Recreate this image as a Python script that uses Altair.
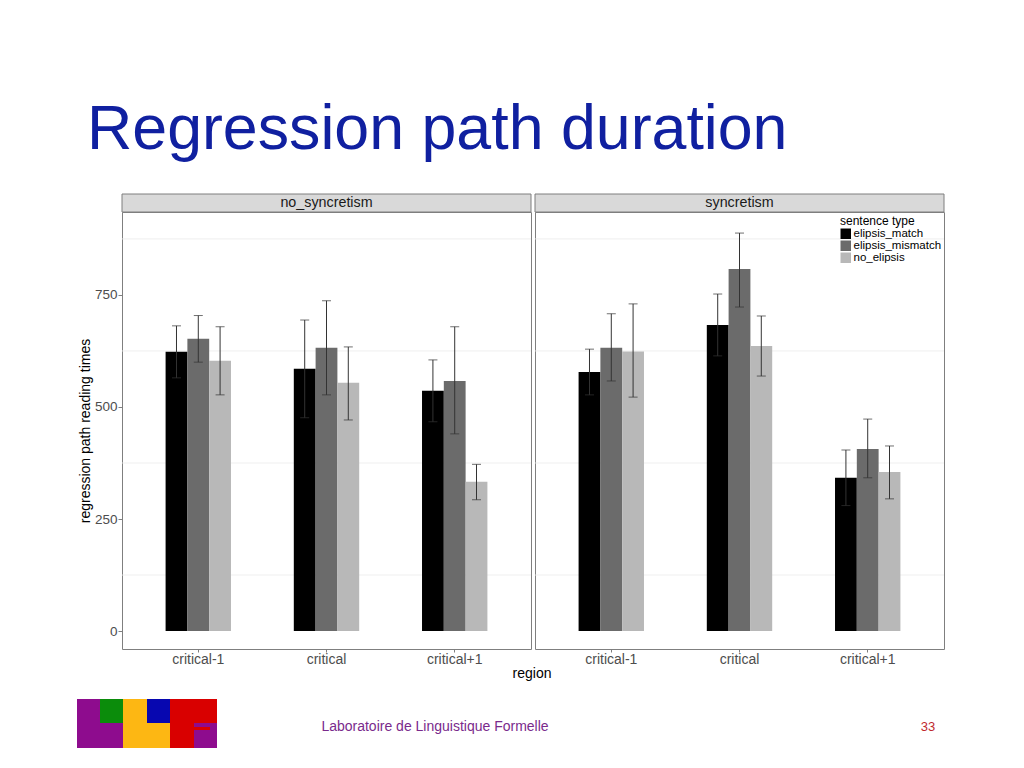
import altair as alt
import pandas as pd

# ---------------- data ----------------
panels = ["no_syncretism", "syncretism"]
regions = ["critical-1", "critical", "critical+1"]
types = ["elipsis_match", "elipsis_mismatch", "no_elipsis"]

# mean regression path reading times [region][type]
mean_no_sync = [[623, 652, 603], [585, 632, 554], [536, 558, 333]]
mean_sync = [[578, 632, 624], [683, 808, 636], [342, 406, 355]]
# error bar lower / upper ends
lo_no_sync = [[565, 600, 527], [476, 527, 471], [467, 440, 293]]
hi_no_sync = [[681, 704, 679], [694, 737, 634], [605, 679, 372]]
lo_sync = [[527, 558, 522], [614, 723, 569], [280, 342, 295]]
hi_sync = [[629, 708, 730], [752, 888, 703], [404, 473, 413]]

grid_values = [125, 375, 625, 875]
y_ticks = [0, 250, 500, 750]

slide_title = "Regression path duration"
footer_text = "Laboratoire de Linguistique Formelle"
page_number = "33"
y_title = "regression path reading times"
x_title = "region"
legend_title = "sentence type"

rows = []
for pname, M, L, Hh in [("no_syncretism", mean_no_sync, lo_no_sync, hi_no_sync),
                        ("syncretism", mean_sync, lo_sync, hi_sync)]:
    for i, r in enumerate(regions):
        for j, t in enumerate(types):
            rows.append({"panel": pname, "region": r, "stype": t,
                         "mean": M[i][j], "lo": L[i][j], "hi": Hh[i][j]})
df = pd.DataFrame(rows)
grid_df = pd.DataFrame({"g": grid_values})
one = pd.DataFrame({"k": [0]})

# ---------------- styling ----------------
FONT = "Liberation Sans"
W, H = 409, 437
ydom = [-40, 935]
yscale = alt.Scale(domain=ydom, nice=False, zero=False)
bar_colors = ["#000000", "#6b6b6b", "#b8b8b8"]
err_color = "#333333"


def make_yaxis(left):
    if not left:
        return None
    return alt.Axis(values=y_ticks, title=y_title, grid=False, domain=False,
                    tickSize=4, tickColor="#7f7f7f", labelFontSize=13.5,
                    labelColor="#4d4d4d", labelPadding=1, titleFontSize=14,
                    titleFontWeight="normal", titleColor="#000000",
                    titlePadding=2, labelFont=FONT, titleFont=FONT)


def text_layer(txt, x, y, size, color, align="center", baseline="middle"):
    return alt.Chart(one).mark_text(text=txt, fontSize=size, color=color, font=FONT,
                                    align=align, baseline=baseline).encode(
        x=alt.value(x), y=alt.value(y))


def rect_layer(x, x2, y, y2, color, opacity=1.0, stroke=None):
    kw = dict(color=color, opacity=opacity)
    if stroke:
        kw.update(stroke=stroke, strokeWidth=1)
    return alt.Chart(one).mark_rect(**kw).encode(
        x=alt.value(x), x2=alt.value(x2), y=alt.value(y), y2=alt.value(y2))


def panel(name, left):
    d = df[df.panel == name]
    yaxis = make_yaxis(left)
    xenc = alt.X("region:N", sort=regions,
                 scale=alt.Scale(paddingInner=0.49, paddingOuter=0.34),
                 axis=alt.Axis(title=None, labelAngle=0, labelFontSize=14,
                               labelColor="#4d4d4d", labelFont=FONT, tickSize=3,
                               tickColor="#7f7f7f", domain=False, labelPadding=0))
    xoff = alt.XOffset("stype:N", sort=types,
                       scale=alt.Scale(paddingInner=0, paddingOuter=0))
    if left:
        legend = None
    else:
        legend = alt.Legend(title=legend_title, orient="none", legendX=305, legendY=4,
                            titleFontSize=12, titleFontWeight="normal", titleColor="#000000",
                            titleFont=FONT, labelFont=FONT, labelFontSize=11.5,
                            labelColor="#000000", symbolType="square", symbolSize=110,
                            symbolStrokeWidth=0, rowPadding=-1.5, labelOffset=2,
                            titlePadding=0, padding=0)
    color = alt.Color("stype:N", sort=types,
                      scale=alt.Scale(domain=types, range=bar_colors), legend=legend)

    grid = alt.Chart(grid_df).mark_rule(color="#ebebeb", strokeWidth=0.8).encode(
        y=alt.Y("g:Q", scale=yscale, axis=yaxis))
    bars = alt.Chart(d).mark_bar().encode(
        x=xenc, xOffset=xoff,
        y=alt.Y("mean:Q", scale=yscale, axis=yaxis), y2=alt.datum(0),
        color=color)
    err = alt.Chart(d).mark_rule(color=err_color, strokeWidth=1).encode(
        x=xenc, xOffset=xoff, y=alt.Y("lo:Q", scale=yscale, axis=yaxis), y2="hi:Q")
    cap_lo = alt.Chart(d).mark_tick(color=err_color, size=9, thickness=1).encode(
        x=xenc, xOffset=xoff, y=alt.Y("lo:Q", scale=yscale, axis=yaxis))
    cap_hi = alt.Chart(d).mark_tick(color=err_color, size=9, thickness=1).encode(
        x=xenc, xOffset=xoff, y=alt.Y("hi:Q", scale=yscale, axis=yaxis))
    strip = rect_layer(0, W, -18, 0, "#d9d9d9", stroke="#7f7f7f")
    strip_txt = text_layer(name, W / 2, -9, 14.3, "#1a1a1a")

    layers = [grid, bars, err, cap_lo, cap_hi, strip, strip_txt]
    if left:
        # slide decorations, positioned relative to this panel's origin
        layers += [
            rect_layer(-113, -112, -203, -202, "#ffffff", opacity=0),  # page anchor
            text_layer(slide_title, -35, -63, 62.7, "#1020A0", align="left",
                       baseline="alphabetic"),
            text_layer(x_title, 410, 462, 14, "#000000"),
            text_layer(footer_text, 313, 515, 14, "#7a2a8c"),
            text_layer(page_number, 806, 515, 13, "#c0282d"),
            # logo blocks
            rect_layer(-45, 1, 487, 536, "#8E0C8E"),
            rect_layer(-22, 1, 487, 511, "#0B8C0B"),
            rect_layer(1, 48, 487, 536, "#FDB713"),
            rect_layer(25, 48, 487, 511, "#0707B0"),
            rect_layer(48, 95, 487, 536, "#D90000"),
            rect_layer(72, 95, 511, 536, "#8E0C8E"),
            rect_layer(72, 88, 515, 518, "#D90000"),
        ]
    return alt.layer(*layers).properties(width=W, height=H)


chart = alt.hconcat(panel("no_syncretism", True), panel("syncretism", False),
                    spacing=4, bounds="flush").resolve_scale(
    color="independent").resolve_legend(color="independent").properties(
    padding=0).configure(font=FONT).configure_view(stroke="#7f7f7f", strokeWidth=1)

chart.save("out.html", embed_options={"renderer": "svg", "actions": False})
